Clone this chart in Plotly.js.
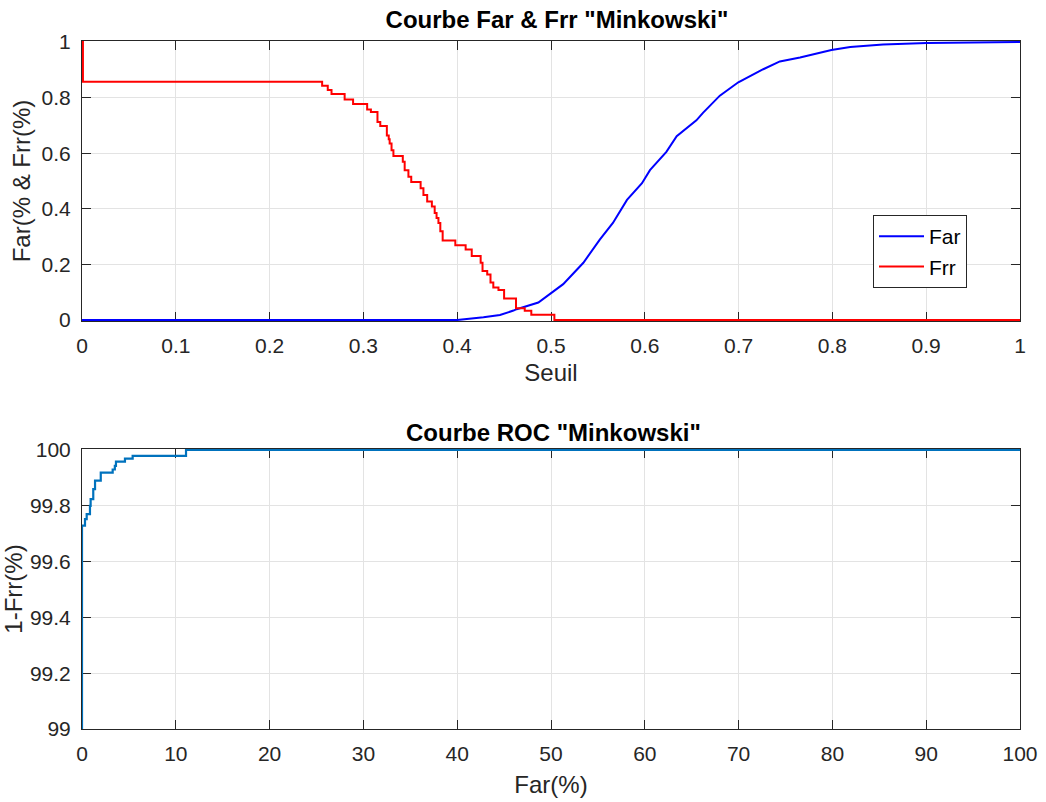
<!DOCTYPE html>
<html>
<head>
<meta charset="utf-8">
<script src="https://cdn.plot.ly/plotly-3.0.1.min.js"></script>
<style>html,body{margin:0;padding:0;background:#fff;}#plot{width:1046px;height:802px;}</style>
</head>
<body>
<div id="plot"></div>
<script>
// Far curve (threshold vs Far)
const farSeuil = [0, 0.40, 0.428, 0.4456, 0.46, 0.4634, 0.4865, 0.499, 0.513, 0.5345, 0.552, 0.566, 0.581, 0.597, 0.6055, 0.623, 0.634, 0.655, 0.662, 0.680, 0.6997, 0.7263, 0.744, 0.7655, 0.787, 0.799, 0.819, 0.854, 0.9005, 1.0];
const farVal   = [0, 0, 0.010, 0.018, 0.034, 0.039, 0.063, 0.095, 0.129, 0.206, 0.289, 0.349, 0.432, 0.492, 0.539, 0.605, 0.661, 0.718, 0.745, 0.807, 0.855, 0.902, 0.930, 0.944, 0.960, 0.971, 0.982, 0.991, 0.996, 1.0];

// Frr curve (threshold vs Frr), step
const frrSeuil = [0, 0.001, 0.256, 0.262, 0.266, 0.280, 0.289, 0.304, 0.308, 0.315, 0.318, 0.325, 0.327, 0.328, 0.330, 0.332, 0.342, 0.344, 0.348, 0.351, 0.361, 0.364, 0.368, 0.373, 0.376, 0.378, 0.380, 0.382, 0.3845, 0.398, 0.409, 0.4155, 0.425, 0.427, 0.432, 0.4355, 0.4385, 0.444, 0.450, 0.4627, 0.472, 0.479, 0.5036, 1.0];
const frrVal   = [1, 0.857, 0.843, 0.827, 0.813, 0.793, 0.777, 0.757, 0.748, 0.712, 0.698, 0.664, 0.650, 0.635, 0.611, 0.590, 0.569, 0.539, 0.515, 0.496, 0.474, 0.450, 0.426, 0.408, 0.385, 0.367, 0.349, 0.319, 0.286, 0.269, 0.254, 0.230, 0.206, 0.176, 0.164, 0.135, 0.117, 0.108, 0.077, 0.042, 0.033, 0.019, 0, 0];

// ROC curve (Far% vs 1-Frr%)
const rocFar = [0, 0, 0.32, 0.5, 0.85, 0.92, 1.2, 1.39, 2.0, 3.27, 3.5, 3.62, 4.58, 5.4, 11.09, 100];
const rocGar = [98, 99.729, 99.752, 99.77, 99.80, 99.824, 99.86, 99.89, 99.919, 99.93, 99.943, 99.958, 99.969, 99.979, 100, 100];

const topXTicks = [0, 0.1, 0.2, 0.3, 0.4, 0.5, 0.6, 0.7, 0.8, 0.9, 1];
const topXLabels = ['0', '0.1', '0.2', '0.3', '0.4', '0.5', '0.6', '0.7', '0.8', '0.9', '1'];
const topYTicks = [0, 0.2, 0.4, 0.6, 0.8, 1];
const topYLabels = ['0', '0.2', '0.4', '0.6', '0.8', '1'];
const botXTicks = [0, 10, 20, 30, 40, 50, 60, 70, 80, 90, 100];
const botYTicks = [99, 99.2, 99.4, 99.6, 99.8, 100];
const botYLabels = ['99', '99.2', '99.4', '99.6', '99.8', '100'];

const FONT = 'Liberation Sans, Arial, Helvetica, sans-serif';
const TICK = 21, LAB = 24, TIT = 24;
const axisCommon = {
  showline: true, linecolor: '#262626', linewidth: 1, mirror: 'ticks',
  ticks: 'inside', ticklen: 9, tickcolor: '#262626', tickwidth: 1,
  showgrid: true, gridcolor: '#e3e3e3', gridwidth: 1, zeroline: false, layer: 'below traces',
  tickfont: {family: FONT, size: TICK, color: '#262626'}, automargin: false
};
const xCommon = Object.assign({}, axisCommon, {ticklabelstandoff: 6});
const yCommon = Object.assign({}, axisCommon, {ticklabelstandoff: 6});

const traces = [
  {x: farSeuil, y: farVal, type: 'scatter', mode: 'lines', name: 'Far',
   line: {color: '#0000ff', width: 2}, xaxis: 'x', yaxis: 'y'},
  {x: frrSeuil, y: frrVal, type: 'scatter', mode: 'lines', name: 'Frr',
   line: {color: '#ff0000', width: 2, shape: 'hv'}, xaxis: 'x', yaxis: 'y'},
  {x: rocFar, y: rocGar, type: 'scatter', mode: 'lines', name: 'ROC', showlegend: false,
   line: {color: '#0072bd', width: 2.2, shape: 'hv'}, xaxis: 'x2', yaxis: 'y2'}
];

const W = 1046, H = 802;
const layout = {
  width: W, height: H,
  margin: {l: 0, r: 0, t: 0, b: 0},
  paper_bgcolor: '#ffffff', plot_bgcolor: '#ffffff',
  font: {family: FONT, color: '#262626'},
  title: {text: '<b>Courbe Far & Frr "Minkowski"</b>', font: {family: FONT, size: TIT, color: '#000'},
          x: 557 / W, xanchor: 'center', y: 1 - 20 / H, yanchor: 'middle'},
  xaxis: Object.assign({}, xCommon, {
    domain: [82 / W, 1020 / W], anchor: 'y', range: [0, 1],
    tickvals: topXTicks, ticktext: topXLabels,
    title: {text: 'Seuil', font: {family: FONT, size: LAB, color: '#262626'}, standoff: 7}
  }),
  yaxis: Object.assign({}, yCommon, {
    domain: [(H - 321) / H, (H - 41) / H], anchor: 'x', range: [-0.0035, 1.0035],
    tickvals: topYTicks, ticktext: topYLabels,
    title: {text: 'Far(% & Frr(%)', font: {family: FONT, size: LAB, color: '#262626'}, standoff: 4}
  }),
  xaxis2: Object.assign({}, xCommon, {
    domain: [82 / W, 1020 / W], anchor: 'y2', range: [0, 100],
    tickvals: botXTicks,
    title: {text: 'Far(%)', font: {family: FONT, size: LAB, color: '#262626'}, standoff: 11}
  }),
  yaxis2: Object.assign({}, yCommon, {
    domain: [(H - 729) / H, (H - 449) / H], anchor: 'x2', range: [99, 100.0035],
    tickvals: botYTicks, ticktext: botYLabels,
    title: {text: '1-Frr(%)', font: {family: FONT, size: LAB, color: '#262626'}, standoff: 4}
  }),
  legend: {x: 873 / W, y: 1 - 251.5 / H, xanchor: 'left', yanchor: 'middle',
           bgcolor: '#ffffff', bordercolor: '#262626', borderwidth: 1,
           font: {family: FONT, size: TICK, color: '#000'}, itemwidth: 45, tracegroupgap: 0},
  annotations: [
    {text: '<b>Courbe ROC "Minkowski"</b>', xref: 'paper', yref: 'paper',
     x: 553 / W, y: 1 - 432 / H, xanchor: 'center', yanchor: 'middle', showarrow: false,
     font: {family: FONT, size: TIT, color: '#000'}}
  ],
  showlegend: true
};

Plotly.newPlot('plot', traces, layout, {displayModeBar: false, staticPlot: true});
</script>
</body>
</html>
